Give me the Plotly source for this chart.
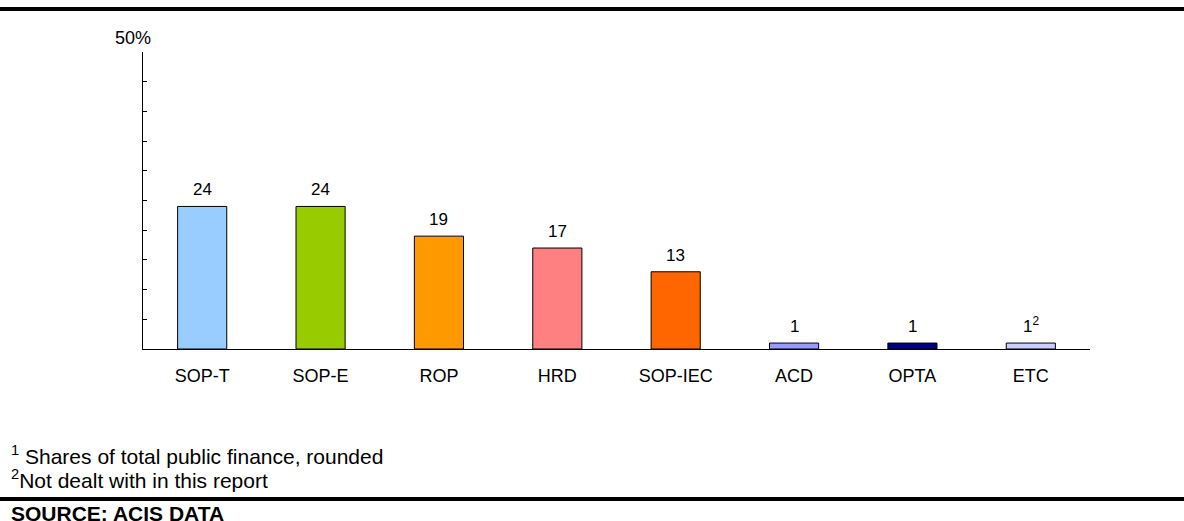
import plotly.graph_objects as go

categories = ["SOP-T", "SOP-E", "ROP", "HRD", "SOP-IEC", "ACD", "OPTA", "ETC"]
shares = [24, 24, 19, 17, 13, 1, 1, 1]
value_labels = ["24", "24", "19", "17", "13", "1", "1", "1<sup>2</sup>"]
bar_colors = ["#99CCFF", "#99CC00", "#FF9900", "#FF8080", "#FF6600", "#9999FF", "#000080", "#CCCCFF"]
footnotes = [("1", " Shares of total public finance, rounded"), ("2", "Not dealt with in this report")]
source_text = "SOURCE: ACIS DATA"

FONT = "Liberation Sans, Arial, sans-serif"
W, H = 1184, 521
L, R, T, B = 143, 94, 52, 172
PLOT_H = H - T - B


def page_y(px):
    """Convert a pixel row (from the top of the page) to paper y."""
    return (H - B - px) / PLOT_H


def page_x(px):
    return (px - L) / (W - L - R)


fig = go.Figure()
fig.add_trace(go.Bar(
    x=categories, y=shares,
    marker=dict(color=bar_colors, line=dict(color="black", width=1)),
    width=0.415,
    hoverinfo="skip",
))

for c, v, t in zip(categories, shares, value_labels):
    fig.add_annotation(x=c, y=v, text=t, showarrow=False, yanchor="bottom",
                       yshift=5, font=dict(size=17, color="black", family=FONT))

fig.add_annotation(xref="paper", yref="paper", x=page_x(133), y=1, xanchor="center",
                   yanchor="bottom", yshift=2, text="50%", showarrow=False,
                   font=dict(size=18, color="black", family=FONT))

# footnotes below the chart
for i, (mark, txt) in enumerate(footnotes):
    fig.add_annotation(xref="paper", yref="paper", x=page_x(9), y=page_y(470 + 23.5 * i),
                       xanchor="left", yanchor="bottom",
                       text=f"<sup>{mark}</sup>{txt}", align="left", showarrow=False,
                       font=dict(size=21, color="black", family=FONT))

fig.add_annotation(xref="paper", yref="paper", x=page_x(9), y=page_y(500),
                   xanchor="left", yanchor="top",
                   text=f"<b>{source_text}</b>", align="left", showarrow=False,
                   font=dict(size=21, color="black", family=FONT))

# horizontal rules across the page
fig.add_shape(type="line", xref="paper", yref="paper", x0=-1, x1=2,
              y0=page_y(9), y1=page_y(9), line=dict(color="black", width=4), layer="above")
fig.add_shape(type="line", xref="paper", yref="paper", x0=-1, x1=2,
              y0=page_y(499), y1=page_y(499), line=dict(color="black", width=4), layer="above")

fig.update_layout(
    width=W, height=H,
    margin=dict(l=L, r=R, t=T, b=B),
    paper_bgcolor="white", plot_bgcolor="white",
    showlegend=False,
    font=dict(family=FONT, color="black"),
    xaxis=dict(showline=True, linecolor="black", linewidth=1, ticks="",
               tickfont=dict(size=18), ticklabelstandoff=10, showgrid=False, zeroline=False,
               fixedrange=True),
    yaxis=dict(range=[0, 50], dtick=5, showline=True, linecolor="black", linewidth=1,
               ticks="inside", ticklen=4, tickcolor="black", showticklabels=False,
               showgrid=False, zeroline=False, fixedrange=True),
)

fig.write_html("out.html")
